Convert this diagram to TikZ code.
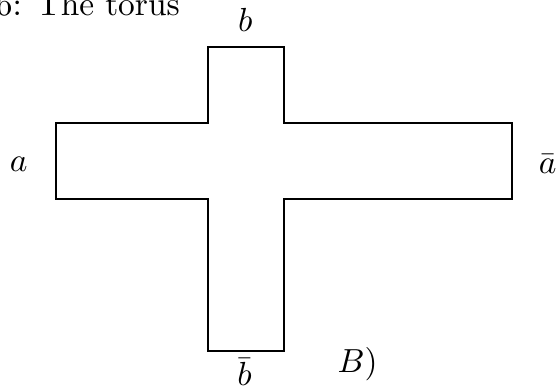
\documentclass[tikz,border=0pt]{standalone}
\usepackage{amsmath,amssymb}
\usetikzlibrary{positioning}
\tikzset{
  outline/.style={draw=black,line width=.65pt,line join=miter},
  sidelabel/.style={inner sep=0pt,anchor=base},
  title/.style={inner sep=0pt,anchor=base west},
}

\begin{document}
\begin{tikzpicture}[x=.8cm,y=.8cm]
  \useasboundingbox (-2.737,-2.5) rectangle (4.605,2.618);
  \node[title] (title) at (-2.80,2.42) {6: The torus};

  % ---- cross-shaped polygon ----
  \draw[outline] (0,-2) -- (1,-2) -- (1,0) -- (4,0) -- (4,1) -- (1,1) -- (1,2)
    -- (0,2) -- (0,1) -- (-2,1) -- (-2,0) -- (0,0) -- cycle;

  % ---- side labels ----
  \node[sidelabel] (b)    at (.49,2.2)   {$b$};
  \node[sidelabel] (bbar) at (.48,-2.46) {$\bar{b}$};
  \node[sidelabel] (a)    at (-2.49,.36) {$a$};
  \node[sidelabel] (abar) at (4.47,.34)  {$\bar{a}$};
  \node[sidelabel] (B)    at (1.97,-2.28) {$B)$};
\end{tikzpicture}
\end{document}
